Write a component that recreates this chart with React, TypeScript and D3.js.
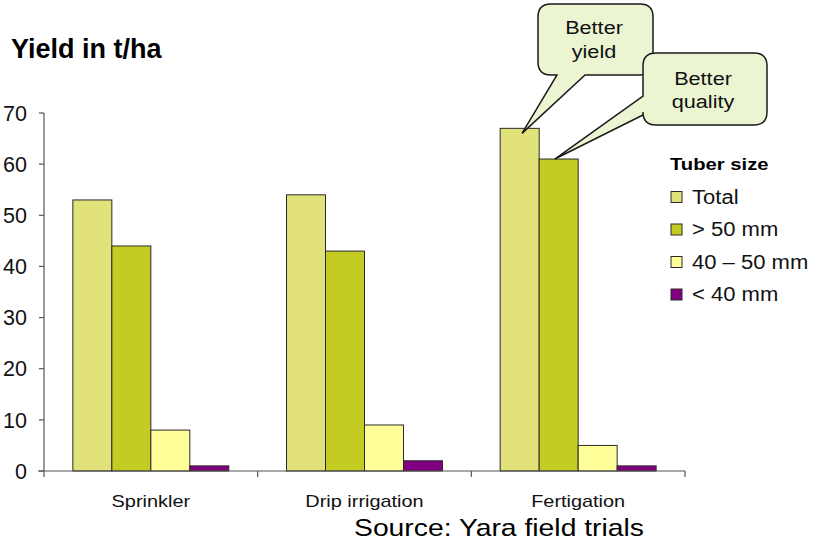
import React from "react";
import * as d3 from "d3";

const categories = ["Sprinkler", "Drip irrigation", "Fertigation"];
const seriesNames = ["Total", "> 50 mm", "40 – 50 mm", "< 40 mm"];
const totalValues = [53, 54, 67];
const over50Values = [44, 43, 61];
const mid40to50Values = [8, 9, 5];
const under40Values = [1, 2, 1];
const seriesColors = ["#E1E37A", "#C4CC24", "#FFFF99", "#800080"];
const yTicks = [0, 10, 20, 30, 40, 50, 60, 70];

const seriesValues = [totalValues, over50Values, mid40to50Values, under40Values];

const W = 813;
const H = 543;
const FONT = "'Liberation Sans', Arial, sans-serif";

function T(props: {
  x: number;
  y: number;
  size: number;
  sx?: number;
  anchor?: string;
  bold?: boolean;
  fill?: string;
  children: React.ReactNode;
}) {
  const { x, y, size, sx = 1, anchor = "start", bold = false, fill = "#111" } = props;
  return (
    <text
      transform={`translate(${x},${y}) scale(${sx},1)`}
      textAnchor={anchor}
      fontSize={size}
      fontWeight={bold ? "bold" : "normal"}
      fill={fill}
    >
      {props.children}
    </text>
  );
}

export default function App() {
  const x0 = d3.scaleBand<string>().domain(categories).range([44, 685]).paddingInner(0).paddingOuter(0);
  const x1 = d3
    .scaleBand<string>()
    .domain(seriesNames)
    .range([0, x0.bandwidth()])
    .paddingInner(0)
    .paddingOuter(0.74);
  const y = d3.scaleLinear().domain([0, 70]).range([471, 113]);

  const bars: React.ReactNode[] = [];
  categories.forEach((c, ci) => {
    seriesNames.forEach((s, si) => {
      const v = seriesValues[si][ci];
      const bx = (x0(c) ?? 0) + (x1(s) ?? 0);
      bars.push(
        <rect
          key={`${c}-${s}`}
          x={bx}
          y={y(v)}
          width={x1.bandwidth()}
          height={y(0) - y(v)}
          fill={seriesColors[si]}
          stroke="#2a2a2a"
          strokeWidth={1}
        />
      );
    });
  });

  // callout tips bound to Fertigation bars
  const fc = categories[2];
  const tip1x = (x0(fc) ?? 0) + (x1(seriesNames[0]) ?? 0) + x1.bandwidth() * 0.56;
  const tip1y = y(totalValues[2]) + 5;
  const tip2x = (x0(fc) ?? 0) + (x1(seriesNames[1]) ?? 0) + x1.bandwidth() * 0.4;
  const tip2y = y(over50Values[2]);

  const r = 13;
  const b1 = { x0: 538, y0: 4, x1: 653, y1: 75 };
  const c1 = `M${b1.x0 + r},${b1.y0} H${b1.x1 - r} Q${b1.x1},${b1.y0} ${b1.x1},${b1.y0 + r} V${b1.y1 - r} Q${b1.x1},${b1.y1} ${b1.x1 - r},${b1.y1} H585 L${tip1x},${tip1y} L557,${b1.y1} H${b1.x0 + r} Q${b1.x0},${b1.y1} ${b1.x0},${b1.y1 - r} V${b1.y0 + r} Q${b1.x0},${b1.y0} ${b1.x0 + r},${b1.y0} Z`;
  const b2 = { x0: 643, y0: 53, x1: 767, y1: 125 };
  const c2 = `M${b2.x0 + r},${b2.y0} H${b2.x1 - r} Q${b2.x1},${b2.y0} ${b2.x1},${b2.y0 + r} V${b2.y1 - r} Q${b2.x1},${b2.y1} ${b2.x1 - r},${b2.y1} H${b2.x0 + r} Q${b2.x0},${b2.y1} ${b2.x0},${b2.y1 - r} V115 L${tip2x},${tip2y} L${b2.x0},96 V${b2.y0 + r} Q${b2.x0},${b2.y0} ${b2.x0 + r},${b2.y0} Z`;

  const catTicks = [44, ...categories.map((c) => (x0(c) ?? 0) + x0.bandwidth())];

  return (
    <svg width={W} height={H} style={{ position: "absolute", left: 0, top: 0 }} fontFamily={FONT}>
      <rect x={0} y={0} width={W} height={H} fill="#ffffff" />
      <T x={11} y={58} size={27} bold fill="#000">
        Yield in t/ha
      </T>

      {bars}

      {/* y axis */}
      <line x1={44} x2={44} y1={y(70)} y2={y(0)} stroke="#555" strokeWidth={1.2} />
      {yTicks.map((t) => (
        <g key={t}>
          <line x1={39} x2={44} y1={y(t)} y2={y(t)} stroke="#555" strokeWidth={1.2} />
          <text x={27} y={y(t)} dy="0.36em" textAnchor="end" fontSize={21.5} fill="#111">
            {t}
          </text>
        </g>
      ))}
      {/* x axis */}
      <line x1={38} x2={685} y1={y(0)} y2={y(0)} stroke="#555" strokeWidth={1.2} />
      {catTicks.map((t, i) => (
        <line key={i} x1={t} x2={t} y1={y(0)} y2={y(0) + 6} stroke="#555" strokeWidth={1.2} />
      ))}
      {categories.map((c) => (
        <T key={c} x={(x0(c) ?? 0) + x0.bandwidth() / 2} y={507} size={17} sx={1.17} anchor="middle">
          {c}
        </T>
      ))}

      <T x={354} y={536} size={24} sx={1.18} fill="#000">
        Source: Yara field trials
      </T>

      {/* legend */}
      <T x={670} y={170} size={17} sx={1.19} bold fill="#000">
        Tuber size
      </T>
      {seriesNames.map((s, i) => {
        const cy = 197 + i * 32.5;
        return (
          <g key={s}>
            <rect x={671} y={cy - 5.5} width={11} height={11} fill={seriesColors[i]} stroke="#2a2a2a" strokeWidth={1} />
            <T x={692} y={cy + 6.5} size={19.5} sx={1.13}>
              {s}
            </T>
          </g>
        );
      })}

      {/* callouts */}
      <path d={c1} fill="#EBF5D2" stroke="#1a1a1a" strokeWidth={1.5} />
      <T x={594} y={34} size={19} sx={1.14} anchor="middle">
        Better
      </T>
      <T x={594} y={58} size={19} sx={1.14} anchor="middle">
        yield
      </T>
      <path d={c2} fill="#EBF5D2" stroke="#1a1a1a" strokeWidth={1.5} />
      <T x={703} y={85} size={19} sx={1.14} anchor="middle">
        Better
      </T>
      <T x={703} y={108} size={19} sx={1.14} anchor="middle">
        quality
      </T>
    </svg>
  );
}
